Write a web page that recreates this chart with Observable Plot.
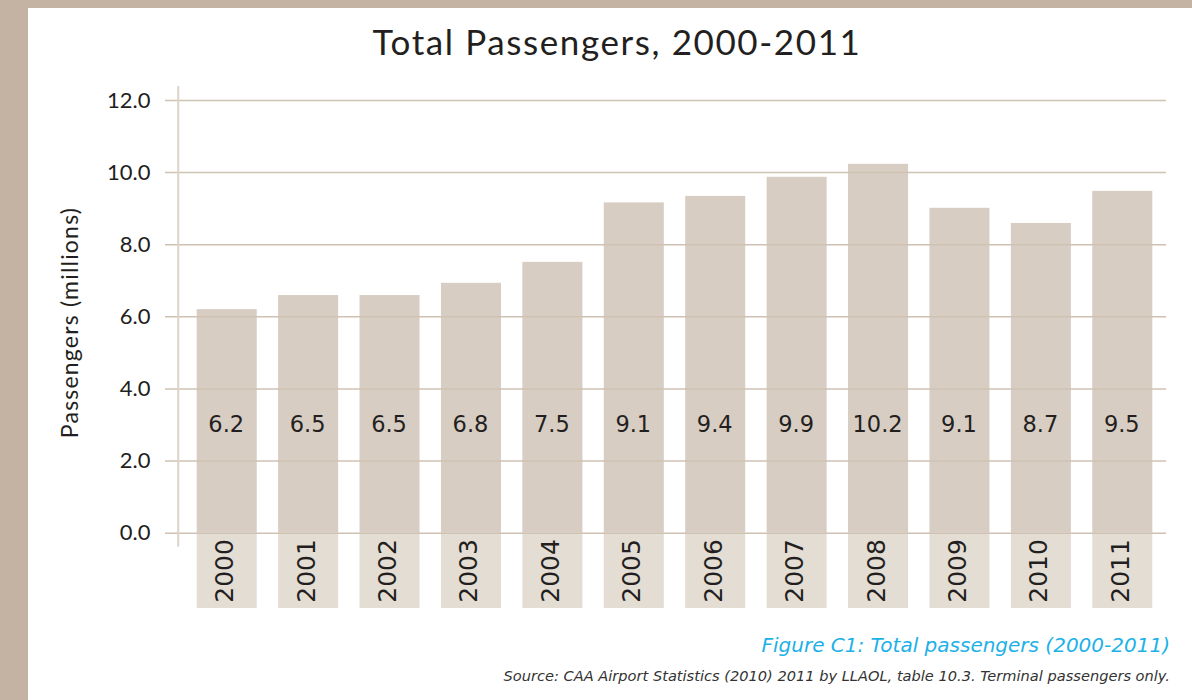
<!DOCTYPE html>
<html><head><meta charset="utf-8">
<script src="https://cdn.jsdelivr.net/npm/d3@7"></script>
<script src="https://cdn.jsdelivr.net/npm/@observablehq/plot@0.6"></script>
<style>
html,body{margin:0;padding:0;background:#fff;}
#page{position:relative;width:1192px;height:700px;overflow:hidden;background:#fff;font-family:Lato,"Open Sans",sans-serif;}
.border-left{position:absolute;left:0;top:0;width:28px;height:700px;background:#c4b3a2;}
.border-top{position:absolute;left:0;top:0;width:1192px;height:8px;background:#c4b3a2;}
#title{position:absolute;left:117px;width:1000px;top:21px;text-align:center;font-size:35px;letter-spacing:1.6px;color:#231f20;line-height:40px;white-space:nowrap;}
#chart{position:absolute;left:0;top:0;}
#caption{position:absolute;right:22px;top:633px;font-family:"DejaVu Sans",sans-serif;font-style:italic;color:#1cb1e7;font-size:20px;line-height:24px;white-space:nowrap;}
#source{position:absolute;right:22px;top:667px;font-family:"DejaVu Sans",sans-serif;font-style:italic;color:#333;font-size:14.6px;line-height:18px;white-space:nowrap;}
</style></head>
<body>
<div id="page">
  <div class="border-left"></div>
  <div class="border-top"></div>
  <div id="chart"></div>
  <div id="title">Total Passengers, 2000-2011</div>
  <div id="caption">Figure C1: Total passengers (2000-2011)</div>
  <div id="source">Source: CAA Airport Statistics (2010) 2011 by LLAOL, table 10.3. Terminal passengers only.</div>
</div>
<script>
const years = ["2000","2001","2002","2003","2004","2005","2006","2007","2008","2009","2010","2011"];
const passengers = [6.20, 6.59, 6.59, 6.93, 7.51, 9.16, 9.34, 9.87, 10.23, 9.01, 8.59, 9.48];
const valueLabels = ["6.2","6.5","6.5","6.8","7.5","9.1","9.4","9.9","10.2","9.1","8.7","9.5"];
const yTicks = [0, 2, 4, 6, 8, 10, 12];
const yTitle = "Passengers (millions)";

const data = years.map((year, i) => ({year, value: passengers[i], label: valueLabels[i]}));

const labelBandDepth = 2.09;
const ink = "#231f20";
const numFont = "'DejaVu Sans', sans-serif";

const chart = Plot.plot({
  width: 1192,
  height: 620,
  marginLeft: 186,
  marginRight: 29,
  marginTop: 100,
  marginBottom: 12,
  style: {fontFamily: "Lato, 'Open Sans', sans-serif", color: ink, background: "transparent"},
  x: {domain: years, paddingInner: 0.2625, paddingOuter: 0.13125, round: false, axis: null},
  y: {domain: [-labelBandDepth, 12]},
  marks: [
    Plot.barY(data, {x: "year", y1: -labelBandDepth, y2: 0, fill: "#e4ddd4"}),
    Plot.barY(data, {x: "year", y: "value", fill: "#d8cdc2"}),
    Plot.ruleY(yTicks, {stroke: "#cfc2b3", strokeWidth: 1.5, insetLeft: -21, insetRight: -3}),
    Plot.ruleX([years[0]], {x: d => d, y1: 12, y2: 0, dx: -49, insetTop: -14, insetBottom: -14, stroke: "#ddd4c9", strokeWidth: 2}),
    Plot.axisY(yTicks, {tickFormat: d3.format(".1f"), tickSize: 0, tickPadding: 36, fontSize: 22, label: null, fill: ink}),
    Plot.text(data, {x: "year", y: 3, text: "label", fontSize: 22.5, fontFamily: numFont, fill: ink, dx: -1}),
    Plot.text(data, {x: "year", y: 0, text: "year", rotate: -90, textAnchor: "end", dy: 6, dx: -2, fontSize: 25, fontFamily: numFont, fill: ink}),
    Plot.text([yTitle], {frameAnchor: "left", text: d => d, rotate: -90, textAnchor: "middle", dx: -116, dy: -32, fontSize: 23, fill: ink})
  ]
});
d3.select(chart).selectAll("text").filter(function() { return this.textContent === yTitle; }).style("letter-spacing", "1.2px");
document.getElementById("chart").appendChild(chart);
</script>
</body></html>
